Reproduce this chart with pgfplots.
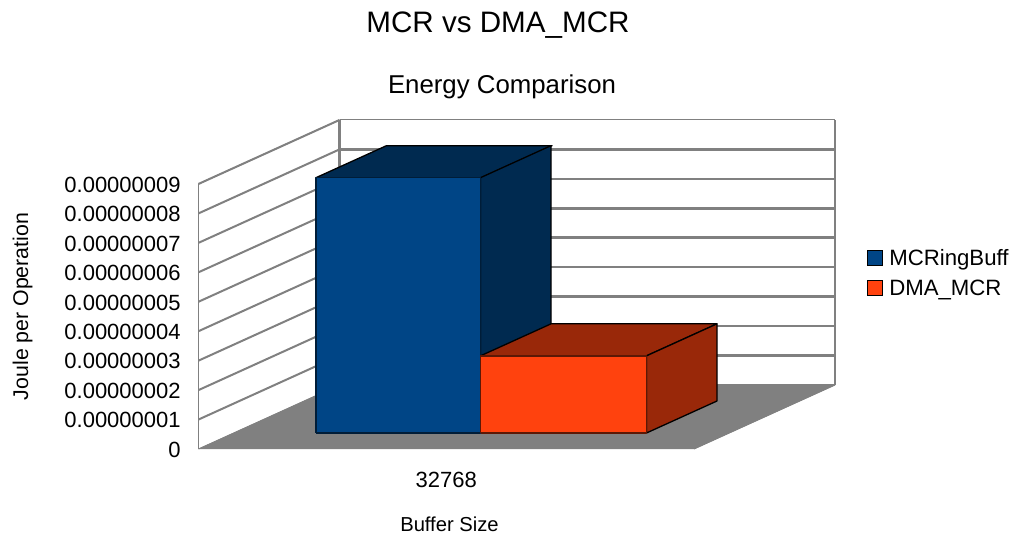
\documentclass[border=0pt]{standalone}
\usepackage{fontspec}
\setmainfont{Liberation Sans}
\usepackage{pgfplots}
\pgfplotsset{compat=1.18}
\definecolor{blueF}{HTML}{004586}
\definecolor{blueD}{HTML}{002A50}
\definecolor{redF}{HTML}{FF420E}
\definecolor{redD}{HTML}{992809}
\definecolor{wall}{HTML}{808080}
\pgfplotsset{
  wallgrid/.style={forget plot, draw=wall, line width=#1, no marks, line join=round},
}
\begin{document}
\begin{tikzpicture}
\useasboundingbox (0pt,0pt) rectangle (1013pt,535pt);
\begin{axis}[
  at={(198.5pt,86pt)}, anchor=origin,
  x={(495.5pt,0pt)}, y={(141pt,64pt)}, z={(0pt,29.45pt)},
  xmin=0.5, xmax=1.5, ymin=0, ymax=1, zmin=0, zmax=9,
  clip=false,
  /pgf/number format/assume math mode=true,
  tick label style={font=\fontsize{22}{24}\selectfont},
  xtick={1}, xticklabels={32768},
  xticklabel style={anchor=center, xshift=0pt, yshift=-31pt},
  ytick=\empty,
  ztick={0,1,...,9},
  zticklabels={0,0.00000001,0.00000002,0.00000003,0.00000004,0.00000005,0.00000006,0.00000007,0.00000008,0.00000009},
  zticklabel style={anchor=east, xshift=-14.3pt, yshift=-0.7pt},
  major tick length=0pt,
  axis line style={draw=wall, line width=1pt},
  legend style={draw=none, fill=none, at={(1.046,0.534)}, anchor=west,
    font=\fontsize{22.2}{24}\selectfont, row sep=9.5pt,
    legend cell align=left, /tikz/every odd column/.append style={column sep=4pt}},
  legend image code/.code={\draw[#1] (0pt,-7pt) rectangle (15pt,8pt);},
]
% side wall grid
\addplot3[wallgrid=2pt] coordinates {(0.5,0,1) (0.5,1,1)};
\addplot3[wallgrid=2pt] coordinates {(0.5,0,2) (0.5,1,2)};
\addplot3[wallgrid=2pt] coordinates {(0.5,0,3) (0.5,1,3)};
\addplot3[wallgrid=2pt] coordinates {(0.5,0,4) (0.5,1,4)};
\addplot3[wallgrid=2pt] coordinates {(0.5,0,5) (0.5,1,5)};
\addplot3[wallgrid=2pt] coordinates {(0.5,0,6) (0.5,1,6)};
\addplot3[wallgrid=2pt] coordinates {(0.5,0,7) (0.5,1,7)};
\addplot3[wallgrid=2pt] coordinates {(0.5,0,8) (0.5,1,8)};
\addplot3[wallgrid=2pt] coordinates {(0.5,0,9) (0.5,1,9)};
% back wall grid
\addplot3[wallgrid=2.6pt] coordinates {(0.5,1,1) (1.5,1,1)};
\addplot3[wallgrid=2.6pt] coordinates {(0.5,1,2) (1.5,1,2)};
\addplot3[wallgrid=2.6pt] coordinates {(0.5,1,3) (1.5,1,3)};
\addplot3[wallgrid=2.6pt] coordinates {(0.5,1,4) (1.5,1,4)};
\addplot3[wallgrid=2.6pt] coordinates {(0.5,1,5) (1.5,1,5)};
\addplot3[wallgrid=2.6pt] coordinates {(0.5,1,6) (1.5,1,6)};
\addplot3[wallgrid=2.6pt] coordinates {(0.5,1,7) (1.5,1,7)};
\addplot3[wallgrid=2.6pt] coordinates {(0.5,1,8) (1.5,1,8)};
% back wall edges
\addplot3[wallgrid=2.6pt] coordinates {(0.5,1,0) (0.5,1,9)};
\addplot3[wallgrid=2.6pt] coordinates {(1.5,1,0) (1.5,1,9)};
% floor
\addplot3[forget plot, fill=wall, draw=wall, no marks] coordinates {(0.5,0,0) (1.5,0,0) (1.5,1,0) (0.5,1,0) (0.5,0,0)};
% MCRingBuff: 8.67e-8 J (z in units of 1e-8)
\addplot3[forget plot, fill=blueD, draw=black, line width=1.3pt, line join=round, no marks] coordinates {(0.666,0.25,8.67) (0.666,0.75,8.67) (1,0.75,8.67) (1,0.25,8.67) (0.666,0.25,8.67)};
\addplot3[forget plot, fill=blueD, draw=black, line width=1.3pt, line join=round, no marks] coordinates {(0.998,0.25,0) (0.998,0.75,0) (0.998,0.75,8.67) (0.998,0.25,8.67) (0.998,0.25,0)};
\addplot3[forget plot, fill=blueF, draw=blueD!70!black, line width=1.5pt, line join=round, no marks] coordinates {(0.666,0.25,0) (0.998,0.25,0) (0.998,0.25,8.67) (0.666,0.25,8.67) (0.666,0.25,0)};
% DMA_MCR: 2.62e-8 J
\addplot3[forget plot, fill=redD, draw=black, line width=1.3pt, line join=round, no marks] coordinates {(0.998,0.25,2.62) (0.998,0.75,2.62) (1.333,0.75,2.62) (1.333,0.25,2.62) (0.998,0.25,2.62)};
\addplot3[forget plot, fill=redD, draw=black, line width=1.3pt, line join=round, no marks] coordinates {(1.333,0.25,0) (1.333,0.75,0) (1.333,0.75,2.62) (1.333,0.25,2.62) (1.333,0.25,0)};
\addplot3[forget plot, fill=redF, draw=redD!60!black, line width=1.5pt, line join=round, no marks] coordinates {(0.998,0.25,0) (1.333,0.25,0) (1.333,0.25,2.62) (0.998,0.25,2.62) (0.998,0.25,0)};
\addlegendimage{fill=blueF, draw=black, line width=0.8pt}
\addlegendentry{MCRingBuff}
\addlegendimage{fill=redF, draw=black, line width=0.8pt}
\addlegendentry{DMA\_MCR}
\end{axis}
\node[font=\fontsize{29.6}{32}\selectfont] at (498pt,509.5pt) {MCR vs DMA\_MCR};
\node[font=\fontsize{25.8}{28}\selectfont] at (502pt,448pt) {Energy Comparison};
\node[font=\fontsize{20.2}{23}\selectfont] at (449.5pt,11pt) {Buffer Size};
\node[font=\fontsize{21.3}{23}\selectfont, rotate=90] at (22.5pt,228.5pt) {Joule per Operation};
\end{tikzpicture}
\end{document}
